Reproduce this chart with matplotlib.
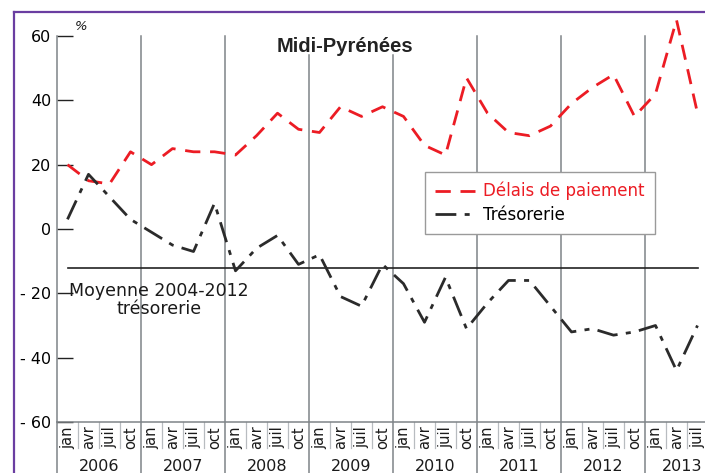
import matplotlib
matplotlib.use('Agg')
import matplotlib.pyplot as plt
from matplotlib.lines import Line2D

# quarterly balance of opinion, %, jan 2006 -> juil 2013
quarters = ['jan', 'avr', 'juil', 'oct']
years = ['2006', '2007', '2008', '2009', '2010', '2011', '2012', '2013']

delais = [20, 15, 14, 24,
          20, 25, 24, 24,
          23, 29, 36, 31,
          30, 38, 35, 38,
          35, 26, 23, 47,
          36, 30, 29, 32,
          39, 44, 48, 35,
          42, 65, 36]

tresorerie = [3, 17, 10, 3,
              -1, -5, -7, 8,
              -13, -6, -2, -11,
              -8, -21, -24, -11,
              -17, -29, -15, -31,
              -23, -16, -16, -24,
              -32, -31, -33, -32,
              -30, -44, -30]

moyenne = -12
yticks = [60, 40, 20, 0, -20, -40, -60]
ytick_labels = ['60', '40', '20', '0', '- 20', '- 40', '- 60']

W, H = 705, 473
fig = plt.figure(figsize=(W / 100, H / 100), dpi=100)

# purple frame (only left and top are visible in the crop)
fig.add_artist(Line2D([14 / W, 14 / W], [0, 1 - 12 / H], color='#6a3ea1', lw=1.6))
fig.add_artist(Line2D([14 / W, 1], [1 - 12 / H, 1 - 12 / H], color='#6a3ea1', lw=1.6))

x0, y0 = 57, 422          # pixel of (start 2006, -60)
px_q = 21.0               # pixels per quarter
px_u = 386 / 120.0        # pixels per % point
ytop = 60 + (y0 - 12 - 386) / px_u
xright = (W - x0) / px_q
ax = fig.add_axes([x0 / W, (H - y0) / H, (W - x0) / W, (y0 - 12) / H])
ax.set_xlim(0, xright)
ax.set_ylim(-60, ytop)
ax.patch.set_visible(False)

ybot = -60 - (H - y0) / px_u   # bottom of the figure in data units

n = len(delais)
xs = [i + 0.5 for i in range(n)]

# year separators
for k in range(len(years)):
    top = 54 if years[k] in ('2009', '2010') else 60
    if k == 0:
        top = -60
    ax.plot([4 * k, 4 * k], [ybot, top], color='#7f8488', lw=1.1, clip_on=False, zorder=1)
# quarter separators in label area
for i in range(1, n + 1):
    if i % 4:
        ax.plot([i, i], [-60, -68.2], color='#b8bcc0', lw=0.9, clip_on=False, zorder=1)

# labels under the axis
for i in range(n):
    ax.text(i + 0.5, -64.8, quarters[i % 4], rotation=90, ha='center', va='center',
            fontsize=10.5, color='#1a1a1a', clip_on=False)
for k, yr in enumerate(years):
    xc = 4 * k + 2 if k < len(years) - 1 else 29.75
    ax.text(xc, -73.8, yr, ha='center', va='center', fontsize=11.5, color='#1a1a1a',
            clip_on=False)

# mean line
ax.plot([0.5, n - 0.5], [moyenne, moyenne], color='#222222', lw=1.2, zorder=2)
ax.text(4.85, -16.6, 'Moyenne 2004-2012\ntrésorerie', ha='center', va='top',
        fontsize=12.5, color='#1a1a1a', linespacing=1.0)

l1, = ax.plot(xs, delais, color='#ec1c24', lw=2.0, dashes=(5.5, 3.5), zorder=3,
              label='Délais de paiement')
l2, = ax.plot(xs, tresorerie, color='#2b2b2b', lw=2.0, dashes=(7.5, 3, 1.8, 3), zorder=3,
              label='Trésorerie')

for s in ['top', 'right']:
    ax.spines[s].set_visible(False)
ax.spines['left'].set_bounds(-60, 60)
ax.spines['left'].set_color('#7f8488')
ax.spines['left'].set_linewidth(1.1)
ax.spines['bottom'].set_color('#7f8488')
ax.spines['bottom'].set_linewidth(1.1)

ax.set_xticks([])
ax.set_yticks(yticks)
ax.set_yticklabels(ytick_labels)
ax.tick_params(axis='y', direction='in', length=11.5, width=1.0, color='#222222',
               labelsize=11.5, pad=4)

ax.text(0.85, 61.0, '%', fontsize=9.5, style='italic', color='#1a1a1a', ha='left', va='bottom')
ax.text(13.7, 56.6, 'Midi-Pyrénées', fontsize=14.5, fontweight='bold',
        family='Liberation Sans', color='#222222', ha='center', va='center')

leg = ax.legend(handles=[l1, l2], loc='upper left',
                bbox_to_anchor=((425 - x0) / (W - x0), 1 - (172 - 12) / (y0 - 12)),
                fontsize=12, frameon=True, fancybox=False, handlelength=2.4,
                handletextpad=0.5, borderpad=0.6, labelspacing=0.35, framealpha=1,
                borderaxespad=0)
leg.get_frame().set_edgecolor('#9a9a9a')
leg.get_frame().set_linewidth(1.0)
leg.get_texts()[0].set_color('#ec1c24')

fig.savefig('out.png', dpi=100)
